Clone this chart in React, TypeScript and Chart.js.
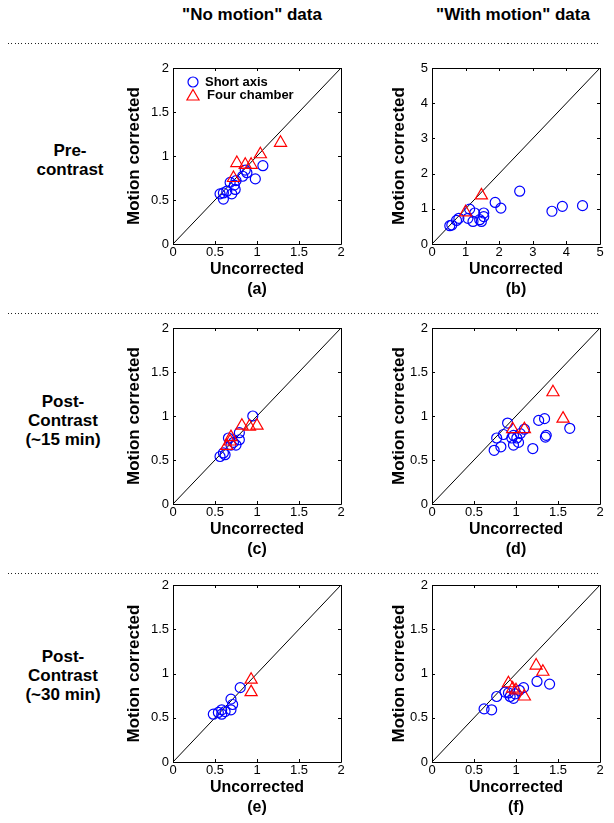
import React, { useEffect, useRef } from "react";
import { Chart, registerables } from "chart.js";
import { drawPoint } from "chart.js/helpers";

Chart.register(...registerables);

// ---------- data ----------
const TICKS_2 = [0, 0.5, 1, 1.5, 2];
const TICKS_5 = [0, 1, 2, 3, 4, 5];

const COLUMN_HEADERS = ['"No motion" data', '"With motion" data'];
const ROW_LABELS = [["Pre-", "contrast"], ["Post-", "Contrast", "(~15 min)"], ["Post-", "Contrast", "(~30 min)"]];
const SERIES_NAMES = ["Short axis", "Four chamber"];
const X_TITLE = "Uncorrected";
const Y_TITLE = "Motion corrected";
const PANEL_LETTERS = ["a", "b", "c", "d", "e", "f"];

const A_SHORT = [[0.6, 0.51], [0.56, 0.57], [0.64, 0.6], [0.7, 0.57], [0.74, 0.62], [0.73, 0.67], [0.68, 0.7], [0.75, 0.72], [0.83, 0.77], [0.88, 0.81], [0.86, 0.84], [0.98, 0.74], [1.07, 0.89], [0.6, 0.58]];
const A_FOUR = [[0.72, 0.75], [0.76, 0.92], [0.86, 0.9], [0.93, 0.9], [1.04, 1.02], [1.28, 1.15]];

const B_SHORT = [[0.53, 0.52], [0.59, 0.54], [0.73, 0.67], [0.8, 0.73], [1.07, 0.73], [1.12, 0.99], [1.22, 0.64], [1.27, 0.88], [1.42, 0.69], [1.47, 0.64], [1.54, 0.78], [1.54, 0.88], [1.88, 1.18], [2.05, 1.02], [2.61, 1.5], [3.57, 0.93], [3.88, 1.07], [4.48, 1.09]];
const B_FOUR = [[1.0, 0.9], [1.47, 1.38]];

const C_SHORT = [[0.56, 0.54], [0.6, 0.58], [0.62, 0.56], [0.66, 0.75], [0.69, 0.67], [0.75, 0.67], [0.79, 0.73], [0.79, 0.81], [0.95, 1.0], [0.72, 0.7]];
const C_FOUR = [[0.64, 0.66], [0.68, 0.71], [0.69, 0.76], [0.82, 0.89], [0.91, 0.88], [1.0, 0.89]];

const D_SHORT = [[0.74, 0.61], [0.77, 0.75], [0.82, 0.65], [0.85, 0.79], [0.9, 0.92], [0.95, 0.75], [0.97, 0.67], [0.97, 0.78], [1.01, 0.75], [1.03, 0.7], [1.05, 0.8], [1.1, 0.85], [1.2, 0.63], [1.27, 0.95], [1.34, 0.97], [1.35, 0.76], [1.36, 0.78], [1.64, 0.86]];
const D_FOUR = [[0.96, 0.85], [1.1, 0.85], [1.44, 1.27], [1.56, 0.97]];

const E_SHORT = [[0.48, 0.54], [0.54, 0.56], [0.58, 0.59], [0.58, 0.54], [0.62, 0.57], [0.69, 0.59], [0.69, 0.71], [0.71, 0.65], [0.8, 0.84]];
const E_FOUR = [[0.93, 0.93], [0.93, 0.79]];

const F_SHORT = [[0.62, 0.6], [0.71, 0.59], [0.77, 0.74], [0.87, 0.79], [0.91, 0.78], [0.93, 0.74], [0.97, 0.72], [0.99, 0.77], [1.04, 0.81], [1.09, 0.84], [1.25, 0.91], [1.4, 0.88]];
const F_FOUR = [[0.91, 0.89], [0.96, 0.83], [1.0, 0.81], [1.1, 0.74], [1.24, 1.09], [1.32, 1.02]];

// ---------- layout / style ----------
const FONT = "'Liberation Sans', Arial, Helvetica, sans-serif";
const BLUE = "#0000ff";
const RED = "#ff0000";

const COLS = [
  { L: 124, x0: 173, x1: 341 },
  { L: 389, x0: 432, x1: 600 },
];
const ROWS = [
  { y0: 68, y1: 244 },
  { y0: 328, y1: 504 },
  { y0: 585, y1: 762 },
];
const PAD_TOP = 12;
const PAD_RIGHT = 12;
const X_AXIS_H = 56;

const framePlugin = {
  id: "frame",
  afterDatasetsDraw(chart: any) {
    const { ctx, chartArea } = chart;
    const { left, right, top, bottom } = chartArea;
    const xs = chart.scales.x;
    const ys = chart.scales.y;
    ctx.save();
    ctx.strokeStyle = "#000";
    ctx.lineWidth = 1;
    ctx.beginPath();
    ctx.rect(left + 0.5, top + 0.5, right - left, bottom - top);
    const tl = 3;
    xs.ticks.forEach((t: any) => {
      const px = Math.round(xs.getPixelForValue(t.value)) + 0.5;
      ctx.moveTo(px, bottom);
      ctx.lineTo(px, bottom - tl);
      ctx.moveTo(px, top);
      ctx.lineTo(px, top + tl);
    });
    ys.ticks.forEach((t: any) => {
      const py = Math.round(ys.getPixelForValue(t.value)) + 0.5;
      ctx.moveTo(left, py);
      ctx.lineTo(left + tl, py);
      ctx.moveTo(right, py);
      ctx.lineTo(right - tl, py);
    });
    ctx.stroke();
    ctx.restore();
  },
};

const legendPlugin = {
  id: "insideLegend",
  afterDraw(chart: any, _args: any, opts: any) {
    if (!opts || !opts.show) return;
    const { ctx, chartArea } = chart;
    const sets = chart.data.datasets.slice(1);
    ctx.save();
    sets.forEach((ds: any, i: number) => {
      const cx = chartArea.left + 20;
      const cy = chartArea.top + 14 + i * 13.5;
      ctx.strokeStyle = ds.borderColor;
      ctx.fillStyle = "rgba(0,0,0,0)";
      ctx.lineWidth = 1.2;
      drawPoint(ctx, { pointStyle: ds.pointStyle, radius: ds.pointRadius, rotation: 0, borderWidth: 1.2 } as any, cx, cy + (ds.pointStyle === "triangle" ? 1 : 0));
      ctx.fillStyle = "#000";
      ctx.font = `bold 13px ${FONT}`;
      ctx.textBaseline = "middle";
      ctx.textAlign = "left";
      ctx.fillText(ds.label, chartArea.left + 32 + i * 2, cy);
    });
    ctx.restore();
  },
};

type PanelProps = {
  col: number;
  row: number;
  ticks: number[];
  short: number[][];
  four: number[][];
  letter: string;
  legend?: boolean;
};

function Panel({ col, row, ticks, short, four, letter, legend }: PanelProps) {
  const ref = useRef<HTMLCanvasElement>(null);
  const c = COLS[col];
  const r = ROWS[row];
  const left = c.L;
  const top = r.y0 - PAD_TOP;
  const width = c.x1 + PAD_RIGHT - c.L;
  const height = r.y1 + X_AXIS_H - top;
  const yAxisW = c.x0 - c.L;

  useEffect(() => {
    const lo = ticks[0];
    const hi = ticks[ticks.length - 1];
    const tickOpts = {
      color: "#000",
      font: { family: FONT, size: 13 },
      maxRotation: 0,
      autoSkip: false,
      callback: (v: any) => String(v),
    };
    const chart = new Chart(ref.current as HTMLCanvasElement, {
      type: "scatter",
      data: {
        datasets: [
          {
            type: "line",
            label: "identity",
            data: [
              { x: lo, y: lo },
              { x: hi, y: hi },
            ],
            borderColor: "#000",
            borderWidth: 1,
            pointRadius: 0,
            order: 3,
          } as any,
          {
            label: SERIES_NAMES[0],
            data: short.map(([x, y]) => ({ x, y })),
            pointStyle: "circle",
            pointRadius: 5,
            borderColor: BLUE,
            backgroundColor: "rgba(0,0,0,0)",
            pointBorderWidth: 1.2,
            order: 2,
          },
          {
            label: SERIES_NAMES[1],
            data: four.map(([x, y]) => ({ x, y })),
            pointStyle: "triangle",
            pointRadius: 7,
            borderColor: RED,
            backgroundColor: "rgba(0,0,0,0)",
            pointBorderWidth: 1.2,
            order: 1,
          },
        ],
      },
      options: {
        responsive: false,
        animation: false,
        devicePixelRatio: 1,
        layout: { padding: { left: 0, top: PAD_TOP, right: PAD_RIGHT, bottom: 0 } },
        plugins: {
          legend: { display: false },
          tooltip: { enabled: false },
          insideLegend: { show: !!legend },
        } as any,
        scales: {
          x: {
            type: "linear",
            min: lo,
            max: hi,
            position: "bottom",
            ticks: { ...tickOpts, padding: 1 },
            grid: { display: false, drawTicks: false },
            border: { display: false },
            title: {
              display: true,
              text: [X_TITLE, `(${letter})`],
              color: "#000",
              font: { family: FONT, size: 16, weight: "bold", lineHeight: 1.25 },
              padding: 0,
            },
            afterBuildTicks: (s: any) => {
              s.ticks = ticks.map((v) => ({ value: v }));
            },
            afterFit: (s: any) => {
              s.height = X_AXIS_H;
            },
          },
          y: {
            type: "linear",
            min: lo,
            max: hi,
            position: "left",
            ticks: { ...tickOpts, padding: 4 },
            grid: { display: false, drawTicks: false },
            border: { display: false },
            title: {
              display: true,
              text: Y_TITLE,
              color: "#000",
              font: { family: FONT, size: 17, weight: "bold", lineHeight: 1.2 },
              padding: 0,
            },
            afterBuildTicks: (s: any) => {
              s.ticks = ticks.map((v) => ({ value: v }));
            },
            afterFit: (s: any) => {
              s.width = yAxisW;
            },
          },
        },
      } as any,
      plugins: [framePlugin, legendPlugin],
    });
    return () => chart.destroy();
  }, []);

  return (
    <canvas
      ref={ref}
      width={width}
      height={height}
      style={{ position: "absolute", left, top, width, height }}
    />
  );
}

const dotted: React.CSSProperties = {
  position: "absolute",
  left: 8,
  width: 592,
  height: 1,
  backgroundImage: "repeating-linear-gradient(to right, #222 0px, #222 1px, transparent 1px, transparent 3.33px)",
};

const textBold = (size: number): React.CSSProperties => ({
  position: "absolute",
  fontFamily: FONT,
  fontWeight: "bold",
  fontSize: size,
  color: "#000",
  textAlign: "center",
  whiteSpace: "nowrap",
});

export default function App() {
  const rowLabelPos = [
    { cx: 70, top: 140.5 },
    { cx: 63, top: 391.5 },
    { cx: 63, top: 646.5 },
  ];
  const headerCx = [252, 513];
  const sepY = [43, 313, 573];
  return (
    <div style={{ position: "relative", width: 614, height: 823, margin: -8, background: "#fff" }}>
      {COLUMN_HEADERS.map((h, i) => (
        <div key={h} style={{ ...textBold(17), left: headerCx[i] - 100, width: 200, top: 4.5, lineHeight: "20px" }}>
          {h}
        </div>
      ))}
      {sepY.map((y) => (
        <div key={y} style={{ ...dotted, top: y }} />
      ))}
      {ROW_LABELS.map((lines, i) => (
        <div key={i} style={{ ...textBold(17), left: rowLabelPos[i].cx - 60, width: 120, top: rowLabelPos[i].top, lineHeight: "19px" }}>
          {lines.map((l) => (
            <div key={l}>{l}</div>
          ))}
        </div>
      ))}
      <Panel col={0} row={0} ticks={TICKS_2} short={A_SHORT} four={A_FOUR} letter={PANEL_LETTERS[0]} legend />
      <Panel col={1} row={0} ticks={TICKS_5} short={B_SHORT} four={B_FOUR} letter={PANEL_LETTERS[1]} />
      <Panel col={0} row={1} ticks={TICKS_2} short={C_SHORT} four={C_FOUR} letter={PANEL_LETTERS[2]} />
      <Panel col={1} row={1} ticks={TICKS_2} short={D_SHORT} four={D_FOUR} letter={PANEL_LETTERS[3]} />
      <Panel col={0} row={2} ticks={TICKS_2} short={E_SHORT} four={E_FOUR} letter={PANEL_LETTERS[4]} />
      <Panel col={1} row={2} ticks={TICKS_2} short={F_SHORT} four={F_FOUR} letter={PANEL_LETTERS[5]} />
    </div>
  );
}
